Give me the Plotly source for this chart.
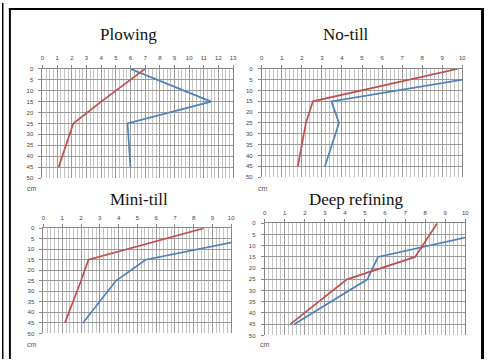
import plotly.graph_objects as go

# Soil depth (cm) at which each profile value is measured
depth = [0, 15, 25, 45]

# Profile values per tillage system (red and blue series)
plowing_red = [7.0, 4.0, 2.1, 1.1]
plowing_blue = [6.0, 11.5, 5.8, 6.0]

notill_red = [9.75, 2.55, 2.2, 1.8]
notill_blue = [13.3, 3.47, 3.85, 3.15]

minitill_red = [8.55, 2.4, 2.0, 1.14]
minitill_blue = [13.8, 5.44, 3.86, 2.1]

deep_red = [8.6, 7.5, 4.1, 1.28]
deep_blue = [13.2, 5.65, 5.12, 1.47]

titles = ["Plowing", "No-till", "Mini-till", "Deep refining"]
x_max = [13, 10, 10, 10]
x_minor = [0.25, 0.2, 0.2, 0.2]
panels = [(plowing_red, plowing_blue), (notill_red, notill_blue),
          (minitill_red, minitill_blue), (deep_red, deep_blue)]

RED = "#C0504D"
BLUE = "#4F81BD"
W, H = 489, 362

# Plot-area boxes in pixels: (left, right, top, bottom)
boxes = [(41, 234, 67, 178), (263, 466, 67, 177),
         (42, 232, 229, 336), (266, 469, 224, 338)]
# Title centres in pixels
title_pos = [(128, 32), (348, 32), (139, 200), (358, 200)]
# "cm" unit labels in pixels
cm_pos = [(30, 189), (264, 189), (30, 347), (266, 347)]

fig = go.Figure()

tick_font = dict(family="Arial", size=6, color="#444444")

for i, ((red, blue), (l, r, t, b)) in enumerate(zip(panels, boxes)):
    n = "" if i == 0 else str(i + 1)
    xa, ya = "x" + n, "y" + n
    for vals, col in ((blue, BLUE), (red, RED)):
        fig.add_trace(go.Scatter(
            x=vals, y=depth, mode="lines", xaxis=xa, yaxis=ya,
            line=dict(color=col, width=1.7), showlegend=False,
            hoverinfo="skip"))
    fig.layout["xaxis" + n] = dict(
        domain=[l / W, r / W], anchor=ya, side="top",
        range=[0, x_max[i]], dtick=1, tick0=0,
        showgrid=True, gridcolor="#9a9a9a", gridwidth=1,
        minor=dict(dtick=x_minor[i], showgrid=True,
                   gridcolor="#c4c4c4", gridwidth=1),
        ticks="outside", ticklen=3, tickcolor="#888888",
        showline=True, linecolor="#888888", linewidth=1,
        zeroline=False, tickfont=tick_font, ticklabelstandoff=2,
        fixedrange=True)
    fig.layout["yaxis" + n] = dict(
        domain=[1 - b / H, 1 - t / H], anchor=xa,
        range=[50, 0], dtick=5, tick0=0,
        showgrid=True, gridcolor="#9a9a9a", gridwidth=1,
        ticks="outside", ticklen=3, tickcolor="#888888",
        showline=True, linecolor="#888888", linewidth=1, mirror=True,
        zeroline=False, tickfont=tick_font, ticklabelstandoff=4,
        fixedrange=True)

annotations = []
for txt, (cx, cy) in zip(titles, title_pos):
    annotations.append(dict(
        text=txt, x=cx / W, y=1 - cy / H, xref="paper", yref="paper",
        showarrow=False, xanchor="center", yanchor="middle",
        font=dict(family="Liberation Serif", size=17, color="#111111")))
for (cx, cy) in cm_pos:
    annotations.append(dict(
        text="cm", x=cx / W, y=1 - cy / H, xref="paper", yref="paper",
        showarrow=False, xanchor="center", yanchor="middle",
        font=dict(family="Arial", size=7, color="#555555")))

# Black table frame around the panels
frame = [
    (7, 5, 488, 7),     # top edge
    (7, 5, 9, 362),     # left edge
    (485, 5, 488, 362),  # right edge
    (0, 0, 1.5, 362),   # outer left rule
]
shapes = [dict(type="rect", xref="paper", yref="paper",
               x0=x0 / W, x1=x1 / W, y0=1 - y1 / H, y1=1 - y0 / H,
               fillcolor="black", line=dict(width=0))
          for x0, y0, x1, y1 in frame]

fig.update_layout(
    width=W, height=H, margin=dict(l=0, r=0, t=0, b=0),
    paper_bgcolor="white", plot_bgcolor="white",
    annotations=annotations, shapes=shapes, showlegend=False)

fig.write_html("out.html", config={"displayModeBar": False})
